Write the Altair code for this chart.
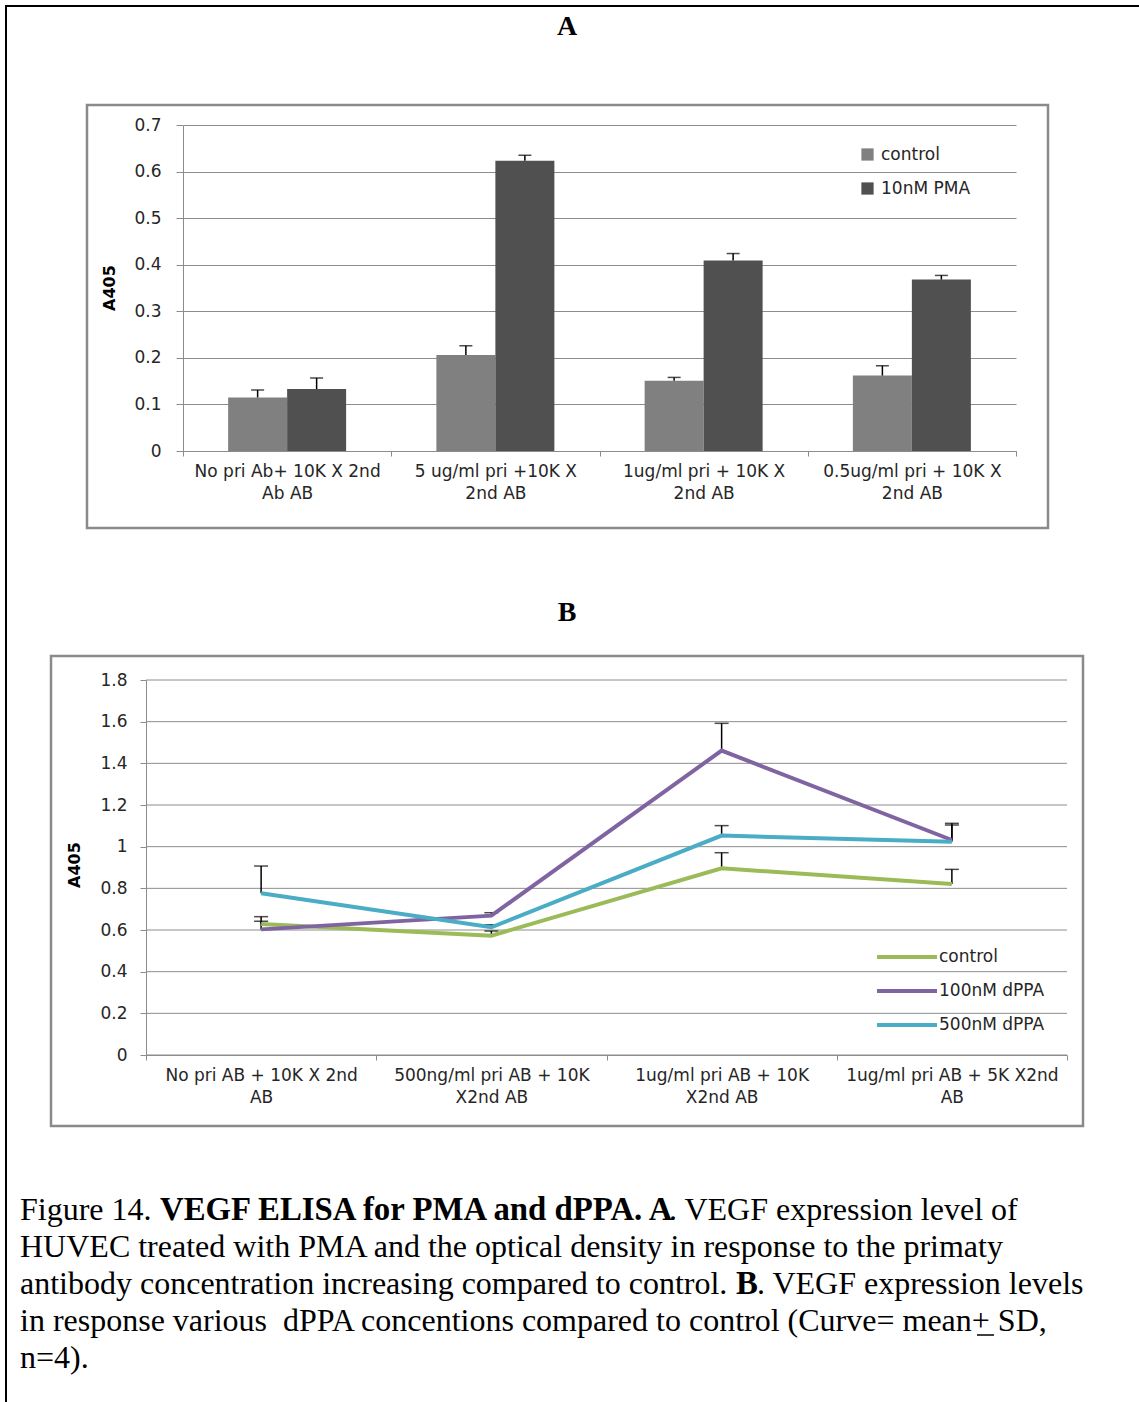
import altair as alt
import pandas as pd

# ---------------- Panel A: VEGF ELISA with PMA (grouped bars, mean + SD) ----------------
CAT_A = [
    "No pri Ab+ 10K X 2nd\nAb AB",
    "5 ug/ml pri +10K X\n2nd AB",
    "1ug/ml pri + 10K X\n2nd AB",
    "0.5ug/ml pri + 10K X\n2nd AB",
]
SERIES_A = ["control", "10nM PMA"]
CONTROL_A = [0.115, 0.206, 0.151, 0.162]
CONTROL_A_SD = [0.016, 0.020, 0.007, 0.021]
PMA_A = [0.133, 0.623, 0.409, 0.368]
PMA_A_SD = [0.024, 0.012, 0.015, 0.009]
TICKS_A = [0, 0.1, 0.2, 0.3, 0.4, 0.5, 0.6, 0.7]
COLORS_A = ["#808080", "#505050"]

# ---------------- Panel B: VEGF ELISA with dPPA (lines, mean + SD) ----------------
CAT_B = [
    "No pri AB + 10K X 2nd\nAB",
    "500ng/ml pri AB + 10K\nX2nd AB",
    "1ug/ml pri AB + 10K\nX2nd AB",
    "1ug/ml pri AB + 5K X2nd\nAB",
]
SERIES_B = ["control", "100nM dPPA", "500nM dPPA"]
CONTROL_B = [0.629, 0.573, 0.896, 0.821]
CONTROL_B_SD = [0.013, 0.022, 0.075, 0.070]
DPPA100_B = [0.603, 0.669, 1.461, 1.032]
DPPA100_B_SD = [0.061, 0.014, 0.131, 0.080]
DPPA500_B = [0.776, 0.613, 1.053, 1.024]
DPPA500_B_SD = [0.131, 0.012, 0.048, 0.080]
TICKS_B = [0, 0.2, 0.4, 0.6, 0.8, 1.0, 1.2, 1.4, 1.6, 1.8]
COLORS_B = ["#9bbb59", "#8064a2", "#4bacc6"]

# ---------------- Caption ----------------
CAPTION_LINES = [
    [("Figure 14. ", False), ("VEGF ELISA for PMA and dPPA. A", True), (". VEGF expression level of", False)],
    [("HUVEC treated with PMA and the optical density in response to the primaty", False)],
    [("antibody concentration increasing compared to control. ", False), ("B", True), (". VEGF expression levels", False)],
    [("in response various \u00a0dPPA concentions compared to control (Curve= mean+ SD,", False)],
    [("n=4).", False)],
]


def long_table(cats, series, values, sds):
    rows = []
    for s, vals, errs in zip(series, values, sds):
        for c, v, e in zip(cats, vals, errs):
            rows.append({"cat": c, "series": s, "value": v, "top": v + e})
    return pd.DataFrame(rows)


dfA = long_table(CAT_A, SERIES_A, [CONTROL_A, PMA_A], [CONTROL_A_SD, PMA_A_SD])
dfB = long_table(CAT_B, SERIES_B, [CONTROL_B, DPPA100_B, DPPA500_B],
                 [CONTROL_B_SD, DPPA100_B_SD, DPPA500_B_SD])
gridB = pd.DataFrame({"value": TICKS_B})
ONE = pd.DataFrame({"k": [0]})

SANS = "DejaVu Sans"
SERIF = "Liberation Serif"
TXT = "#262626"
GRID = "#8c8c8c"
FRAME = "#8a8a8a"
PAGE_W = 1139
ORIGIN_X = 183          # every panel's view starts at this page x
FS = 17                 # chart text size


def x_axis():
    return alt.Axis(
        title=None, labelAngle=0, labelExpr="split(datum.label, '\\n')",
        tickBand="extent", labelFont=SANS, labelFontSize=FS, labelColor=TXT,
        labelLineHeight=22, labelBaseline="top", labelPadding=7, labelLimit=400,
        domainColor=GRID, tickColor=GRID, tickSize=5, grid=False,
    )


def y_axis(values, tick_size, pad, grid, offset=0):
    return alt.Axis(
        title=None, values=values, format="~g", grid=grid, gridColor=GRID,
        gridWidth=1, domainColor=GRID, tickColor=GRID, tickSize=tick_size,
        labelPadding=pad, labelFont=SANS, labelFontSize=FS, labelColor=TXT,
        offset=offset,
    )


def border_bar(x0, x1, y0, y1):
    # solid black strip of the page border (filled rect, so its extent is exact)
    return alt.Chart(ONE).mark_rect(color="black").encode(
        x=alt.value(x0), x2=alt.value(x1), y=alt.value(y0), y2=alt.value(y1))


def decor(top, band_top, band_bottom, frame, title, title_xy, ytitle_xy, top_line):
    """Page furniture for one panel: invisible band, grey frame, outer border, titles."""
    left = ORIGIN_X
    layers = [
        alt.Chart(ONE).mark_rect(opacity=0).encode(
            x=alt.value(-left), x2=alt.value(PAGE_W - left),
            y=alt.value(band_top - top), y2=alt.value(band_bottom - top)),
        alt.Chart(ONE).mark_rect(fillOpacity=0, stroke=FRAME, strokeWidth=2.5).encode(
            x=alt.value(frame[0] - left), x2=alt.value(frame[2] - left),
            y=alt.value(frame[1] - top), y2=alt.value(frame[3] - top)),
        border_bar(5 - left, 7 - left, max(band_top, 5) - top, band_bottom - top),
        alt.Chart(ONE).mark_text(text=title, font=SERIF, fontWeight="bold", fontSize=28,
                                 align="center", baseline="alphabetic", color="black").encode(
            x=alt.value(title_xy[0] - left), y=alt.value(title_xy[1] - top)),
        alt.Chart(ONE).mark_text(text="A405", font=SANS, fontWeight="bold", fontSize=16,
                                 angle=270, align="center", baseline="middle", color="black").encode(
            x=alt.value(ytitle_xy[0] - left), y=alt.value(ytitle_xy[1] - top)),
    ]
    if top_line:
        layers.append(border_bar(5 - left, PAGE_W - left, 5 - top, 7 - top))
    return layers


# ---------------- Panel A chart (plot area x 183..1016, y 125..451) ----------------
A_TOP, A_W, A_H = 125, 833, 326
xA = alt.X("cat:N", sort=CAT_A, scale=alt.Scale(paddingInner=0, paddingOuter=0), axis=x_axis())
xoA = alt.XOffset("series:N", sort=SERIES_A, scale=alt.Scale(paddingInner=0, paddingOuter=0.765))
yA = alt.Y("value:Q", scale=alt.Scale(domain=[0, 0.7], nice=False),
           axis=y_axis(TICKS_A, 7, 15, True))

bars = alt.Chart(dfA).mark_bar().encode(
    x=xA, xOffset=xoA, y=yA,
    color=alt.Color("series:N", sort=SERIES_A,
                    scale=alt.Scale(domain=SERIES_A, range=COLORS_A),
                    legend=alt.Legend(orient="none", legendX=676, legendY=21, title=None,
                                      symbolType="square", symbolSize=150,
                                      symbolStrokeWidth=0, labelFont=SANS,
                                      labelFontSize=FS, labelColor=TXT,
                                      rowPadding=16, labelOffset=5)),
)
err_a = alt.Chart(dfA).mark_rule(color="black", strokeWidth=1.5).encode(
    x=xA, xOffset=xoA, y="value:Q", y2="top:Q")
cap_a = alt.Chart(dfA).mark_tick(color="black", thickness=1.5, size=13).encode(
    x=xA, xOffset=xoA, y="top:Q")

chartA = alt.layer(
    bars, err_a, cap_a,
    *decor(A_TOP, 0, 590, (87, 105, 1048, 528), "A", (567, 35), (110, 288), True),
).properties(width=A_W, height=A_H)

# ---------------- Panel B chart (plot area x 146..1067, y 680..1055) ----------------
B_LEFT, B_TOP, B_RIGHT, B_H = 146, 680, 1067, 375
B_W = B_RIGHT - ORIGIN_X
b_lo, b_hi = B_LEFT - ORIGIN_X, B_RIGHT - ORIGIN_X
xB = alt.X("cat:N", sort=CAT_B,
           scale=alt.Scale(type="band", paddingInner=0, paddingOuter=0, range=[b_lo, b_hi]),
           axis=x_axis())
yB = alt.Y("value:Q", scale=alt.Scale(domain=[0, 1.8], nice=False),
           axis=y_axis(TICKS_B, 6, 13, False, offset=-b_lo))

grid_b = alt.Chart(gridB).mark_rule(color=GRID, strokeWidth=1).encode(
    x=alt.value(b_lo), x2=alt.value(b_hi), y=yB)
err_b = alt.Chart(dfB).mark_rule(color="black", strokeWidth=1.5).encode(
    x=xB, y="value:Q", y2="top:Q")
cap_b = alt.Chart(dfB).mark_tick(color="black", thickness=1.5, size=14).encode(
    x=xB, y="top:Q")
lines = alt.Chart(dfB).mark_line(strokeWidth=4).encode(
    x=xB, y="value:Q",
    color=alt.Color("series:N", sort=SERIES_B,
                    scale=alt.Scale(domain=SERIES_B, range=COLORS_B),
                    legend=alt.Legend(orient="none", legendX=875 - ORIGIN_X, legendY=260,
                                      title=None, symbolType="stroke", symbolSize=3600,
                                      symbolStrokeWidth=4, labelFont=SANS,
                                      labelFontSize=FS, labelColor=TXT,
                                      clipHeight=34, rowPadding=0, labelOffset=0)),
)

chartB = alt.layer(
    grid_b, err_b, cap_b, lines,
    *decor(B_TOP, 590, 1150, (51, 656, 1083, 1126), "B", (567, 621), (75, 865), False),
).properties(width=B_W, height=B_H)

# ---------------- Caption ----------------
CAP_TOP, CAP_H = 1150, 252
seg_x = [[20, 160, 669], [20], [20, 736, 757], [20], [20]]
baselines = [1220, 1257, 1294, 1331, 1368]
cap_layers = [
    alt.Chart(ONE).mark_rect(opacity=0).encode(
        x=alt.value(-ORIGIN_X), x2=alt.value(PAGE_W - ORIGIN_X),
        y=alt.value(0), y2=alt.value(CAP_H)),
    border_bar(5 - ORIGIN_X, 7 - ORIGIN_X, 0, CAP_H),
]
for line, xs, yb in zip(CAPTION_LINES, seg_x, baselines):
    for (txt, bold), xp in zip(line, xs):
        cap_layers.append(
            alt.Chart(ONE).mark_text(text=txt, font=SERIF, fontSize=32.8 if bold else 32,
                                     fontWeight="bold" if bold else "normal",
                                     align="left", baseline="alphabetic", color="black")
            .encode(x=alt.value(xp - ORIGIN_X), y=alt.value(yb - CAP_TOP)))
# underline beneath the "+" of "mean+ SD"
cap_layers.append(alt.Chart(ONE).mark_rule(color="black", strokeWidth=1.5).encode(
    x=alt.value(977 - ORIGIN_X), x2=alt.value(994 - ORIGIN_X), y=alt.value(1335 - CAP_TOP)))

caption = alt.layer(*cap_layers).properties(width=PAGE_W - ORIGIN_X, height=CAP_H)

chart = alt.concat(chartA, chartB, caption, columns=1, align="none", spacing=0,
                   padding=0, background="white") \
    .resolve_scale(color="independent", x="independent", y="independent") \
    .resolve_legend(color="independent") \
    .configure_view(strokeOpacity=0)

chart.save("out.html", embed_options={"renderer": "svg", "actions": False})
